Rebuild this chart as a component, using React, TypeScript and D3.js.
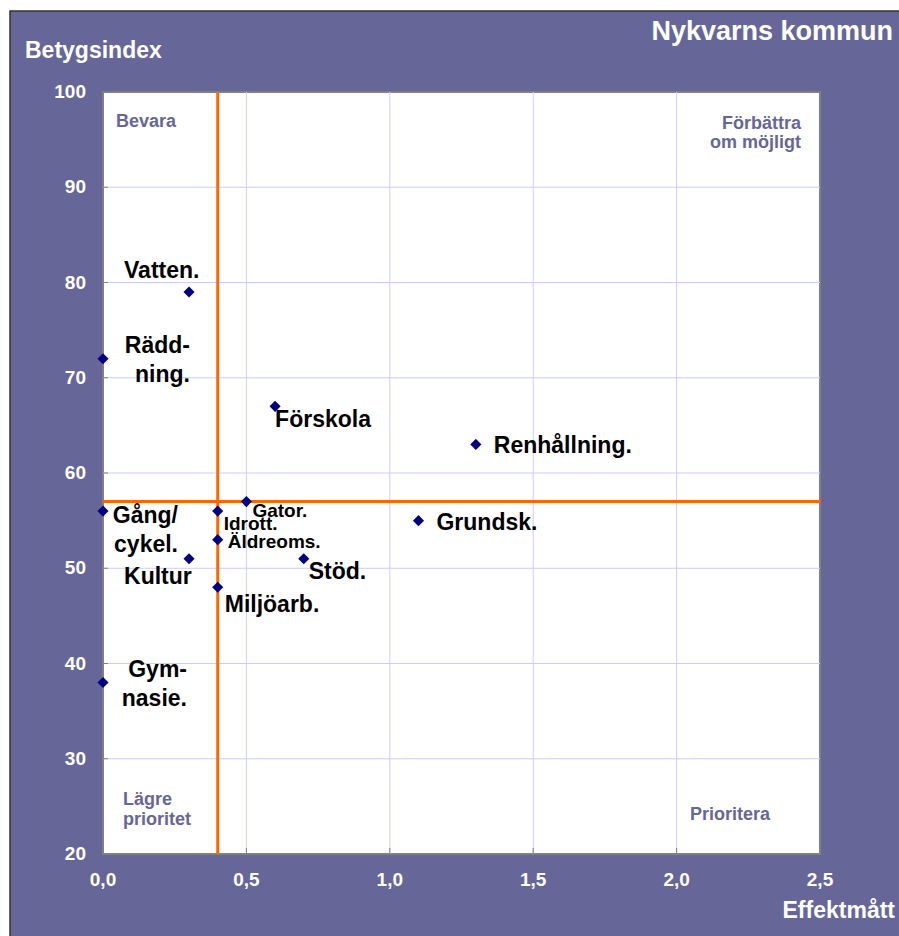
import React from 'react';
import * as d3 from 'd3';

// Betygsindex vs effektmått per verksamhet
const categories = [
  'Vatten.', 'Räddning.', 'Förskola', 'Renhållning.', 'Gator.', 'Gång/cykel.',
  'Idrott.', 'Grundsk.', 'Äldreoms.', 'Kultur', 'Stöd.', 'Miljöarb.', 'Gymnasie.'
];
const effekt = [0.3, 0.0, 0.6, 1.3, 0.5, 0.0, 0.4, 1.1, 0.4, 0.3, 0.7, 0.4, 0.0];
const betyg = [79, 72, 67, 63, 57, 56, 56, 55, 53, 51, 51, 48, 38];

const xTicks = [0, 0.5, 1.0, 1.5, 2.0, 2.5];
const yTicks = [20, 30, 40, 50, 60, 70, 80, 90, 100];

// reference lines
const effektRef = 0.4;
const betygRef = 57;

// label layout (lines, offset from point, anchor, small font)
const labelLayout: Record<string, { lines: string[]; dx: number; dy: number; anchor: string; small?: boolean }> = {
  'Vatten.': { lines: ['Vatten.'], dx: -65, dy: -14, anchor: 'start' },
  'Räddning.': { lines: ['Rädd-', 'ning.'], dx: 87, dy: -6, anchor: 'end' },
  'Förskola': { lines: ['Förskola'], dx: 0, dy: 21, anchor: 'start' },
  'Renhållning.': { lines: ['Renhållning.'], dx: 18, dy: 9, anchor: 'start' },
  'Gator.': { lines: ['Gator.'], dx: 6, dy: 15, anchor: 'start', small: true },
  'Gång/cykel.': { lines: ['Gång/', 'cykel.'], dx: 75, dy: 12, anchor: 'end' },
  'Idrott.': { lines: ['Idrott.'], dx: 6, dy: 19, anchor: 'start', small: true },
  'Grundsk.': { lines: ['Grundsk.'], dx: 18, dy: 9, anchor: 'start' },
  'Äldreoms.': { lines: ['Äldreoms.'], dx: 10, dy: 8, anchor: 'start', small: true },
  'Kultur': { lines: ['Kultur'], dx: -65, dy: 25, anchor: 'start' },
  'Stöd.': { lines: ['Stöd.'], dx: 5, dy: 20, anchor: 'start' },
  'Miljöarb.': { lines: ['Miljöarb.'], dx: 7, dy: 25, anchor: 'start' },
  'Gymnasie.': { lines: ['Gym-', 'nasie.'], dx: 84, dy: -6, anchor: 'end' }
};

const W = 899;
const H = 936;
const plot = { left: 103, top: 92, right: 820, bottom: 854 };
const panelColor = '#666699';
const font = '"Liberation Sans", Arial, Helvetica, sans-serif';

const sv = d3.formatLocale({ decimal: ',', thousands: ' ', grouping: [3], currency: ['', ' kr'] });
const fmtX = sv.format('.1f');

const App: React.FC = () => {
  const x = d3.scaleLinear().domain([0, 2.5]).range([plot.left, plot.right]);
  const y = d3.scaleLinear().domain([20, 100]).range([plot.bottom, plot.top]);
  // square turned 45 degrees, like the Excel diamond marker
  const diamond = d3.symbol().type(d3.symbolSquare).size(62)();

  return (
    <div style={{ position: 'absolute', left: 0, top: 0 }}>
      <svg width={W} height={H} style={{ display: 'block', fontFamily: font, fontWeight: 'bold' }}>
        <rect x={0} y={0} width={W} height={H} fill="#ffffff" />
        <rect x={10} y={11} width={W} height={H} fill={panelColor} stroke="#333333" strokeWidth={1.5} />

        <text x={893} y={40} fontSize={27} fill="#ffffff" textAnchor="end">Nykvarns kommun</text>
        <text x={25} y={58} fontSize={23} fill="#ffffff">Betygsindex</text>
        <text x={895} y={918} fontSize={23} fill="#ffffff" textAnchor="end">Effektmått</text>

        <rect x={plot.left} y={plot.top} width={plot.right - plot.left} height={plot.bottom - plot.top}
          fill="#ffffff" stroke="#808080" strokeWidth={2} />

        {/* gridlines */}
        {xTicks.slice(1, -1).map(t => (
          <line key={'gx' + t} x1={x(t)} x2={x(t)} y1={plot.top} y2={plot.bottom} stroke="#ccccff" strokeWidth={1} />
        ))}
        {yTicks.slice(1, -1).map(t => (
          <line key={'gy' + t} x1={plot.left} x2={plot.right} y1={y(t)} y2={y(t)} stroke="#ccccff" strokeWidth={1} />
        ))}

        {/* tick marks */}
        {xTicks.slice(1, -1).map(t => (
          <line key={'tx' + t} x1={x(t)} x2={x(t)} y1={plot.bottom - 6} y2={plot.bottom} stroke="#808080" strokeWidth={1} />
        ))}
        {yTicks.slice(1, -1).map(t => (
          <line key={'ty' + t} x1={plot.left} x2={plot.left + 5} y1={y(t)} y2={y(t)} stroke="#808080" strokeWidth={1} />
        ))}

        {/* tick labels */}
        {yTicks.map(t => (
          <text key={'ly' + t} x={86} y={y(t) + 6} fontSize={19} fill="#ffffff" textAnchor="end">{t}</text>
        ))}
        {xTicks.map(t => (
          <text key={'lx' + t} x={x(t)} y={886} fontSize={19} fill="#ffffff" textAnchor="middle">{fmtX(t)}</text>
        ))}

        {/* quadrant names */}
        <g fontSize={18} fill={panelColor}>
          <text x={116} y={127}>Bevara</text>
          <text x={801} y={129} textAnchor="end">Förbättra</text>
          <text x={801} y={148} textAnchor="end">om möjligt</text>
          <text x={123} y={805}>Lägre</text>
          <text x={123} y={825}>prioritet</text>
          <text x={690} y={820}>Prioritera</text>
        </g>

        {/* reference lines */}
        <line x1={x(effektRef)} x2={x(effektRef)} y1={plot.top} y2={plot.bottom} stroke="#ff6600" strokeWidth={3} />
        <line x1={plot.left} x2={plot.right} y1={y(betygRef)} y2={y(betygRef)} stroke="#ff6600" strokeWidth={3} />

        {/* points */}
        {categories.map((c, i) => (
          <path key={'p' + c} d={diamond || ''}
            transform={`translate(${x(effekt[i])},${y(betyg[i])}) rotate(45)`} fill="#000080" />
        ))}

        {/* labels */}
        {categories.map((c, i) => {
          const l = labelLayout[c];
          const px = x(effekt[i]) + l.dx;
          const py = y(betyg[i]) + l.dy;
          return (
            <text key={'t' + c} x={px} y={py} fontSize={l.small ? 19 : 23} fill="#000000" textAnchor={l.anchor}>
              {l.lines.map((s, k) => (
                <tspan key={k} x={px} dy={k === 0 ? 0 : 29}>{s}</tspan>
              ))}
            </text>
          );
        })}
      </svg>
    </div>
  );
};

export default App;
